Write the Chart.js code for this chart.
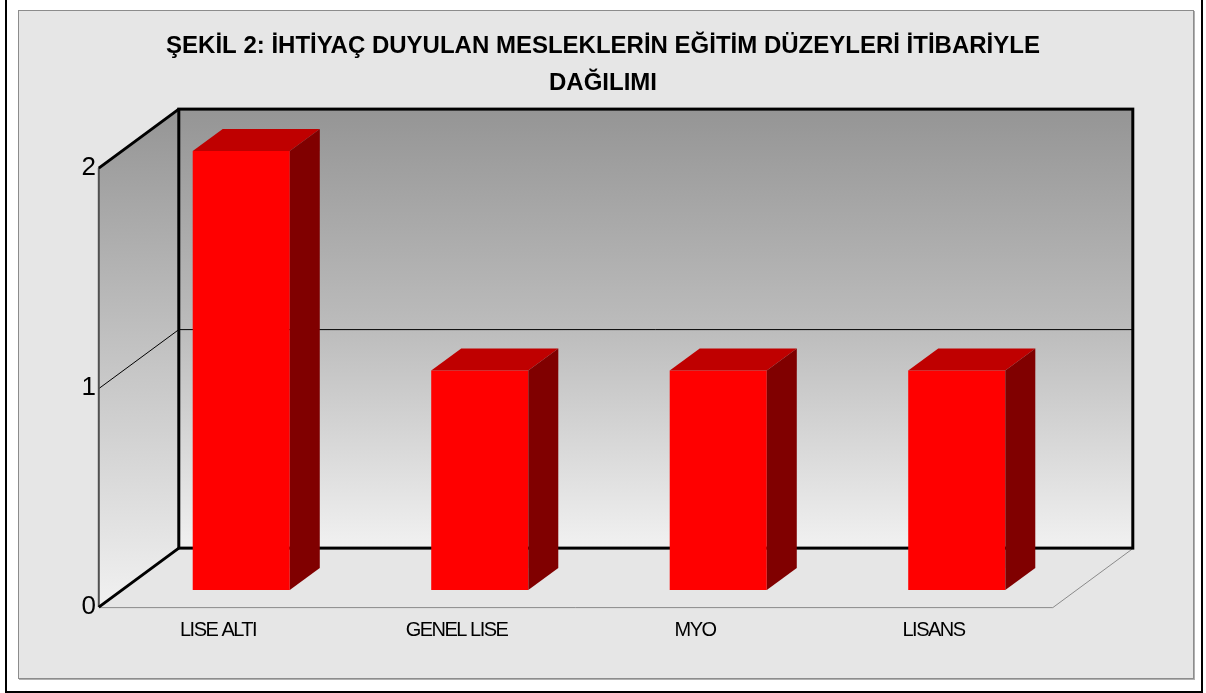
<!DOCTYPE html>
<html>
<head>
<meta charset="utf-8">
<script src="https://cdn.jsdelivr.net/npm/chart.js@4/dist/chart.umd.min.js"></script>
<style>
  html, body { margin: 0; padding: 0; background: #fff; }
  #page { position: relative; width: 1206px; height: 693px; overflow: hidden; }
  #frame { position: absolute; left: 5px; top: -3px; width: 1194px; height: 692px; border: 2px solid #000; }
  #panel { position: absolute; left: 18px; top: 10px; width: 1174px; height: 667px; background: #e6e6e6; border: 1px solid #8c8c8c; box-shadow: 1px 1px 0 #b0b0b0; }
  #chart1 { position: absolute; left: 0; top: 0; }
</style>
</head>
<body>
<div id="page">
  <div id="frame"></div>
  <div id="panel"></div>
  <canvas id="chart1" width="1206" height="693"></canvas>
</div>
<script>
// ====== 데이터 ======
const titleLines = ['ŞEKİL 2: İHTİYAÇ DUYULAN MESLEKLERİN EĞİTİM DÜZEYLERİ İTİBARİYLE', 'DAĞILIMI'];
const categories = ['LISE ALTI', 'GENEL LISE', 'MYO', 'LISANS'];
const values = [2, 1, 1, 1];
const yMin = 0, yMax = 2, yStep = 1;

// 3D depth of the floor (px) and where the bars sit inside it
const depth = { dx: 80, dy: -59 };
const barFront = 0.29;   // bar front face, as share of the depth
const barDepth = 0.375;  // bar thickness, as share of the depth

// walls, floor and gridlines
const walls3d = {
  id: 'walls3d',
  beforeDatasetsDraw(chart) {
    const { ctx, scales: { x, y } } = chart;
    const fx = -barFront * depth.dx, fy = -barFront * depth.dy;
    const bx = fx + depth.dx, by = fy + depth.dy;
    const L = x.left, R = x.right;
    const top = y.getPixelForValue(yMax), bot = y.getPixelForValue(yMin);

    ctx.save();

    // back wall
    let g = ctx.createLinearGradient(0, top + by, 0, bot + by);
    g.addColorStop(0, '#959595');
    g.addColorStop(0.5, '#bcbcbc');
    g.addColorStop(1, '#f1f1f1');
    ctx.fillStyle = g;
    ctx.fillRect(L + bx, top + by, R - L, bot - top);

    // left wall
    g = ctx.createLinearGradient(0, top + by, 0, bot + fy);
    g.addColorStop(0, '#959595');
    g.addColorStop(0.5, '#c4c4c4');
    g.addColorStop(1, '#f1f1f1');
    ctx.fillStyle = g;
    ctx.beginPath();
    ctx.moveTo(L + fx, top + fy);
    ctx.lineTo(L + bx, top + by);
    ctx.lineTo(L + bx, bot + by);
    ctx.lineTo(L + fx, bot + fy);
    ctx.closePath();
    ctx.fill();

    // gridlines
    ctx.strokeStyle = '#000';
    ctx.lineWidth = 1;
    y.ticks.forEach(t => {
      if (t.value <= yMin || t.value >= yMax) return;
      const py = Math.round(y.getPixelForValue(t.value)) + 0.5;
      ctx.beginPath();
      ctx.moveTo(L + fx, py + fy);
      ctx.lineTo(L + bx, py + by);
      ctx.lineTo(R + bx, py + by);
      ctx.stroke();
    });

    // floor front edges
    ctx.strokeStyle = '#8a8a8a';
    ctx.beginPath();
    ctx.moveTo(L + fx, bot + fy + 0.5);
    ctx.lineTo(R + fx, bot + fy + 0.5);
    ctx.lineTo(R + bx, bot + by + 0.5);
    ctx.stroke();

    // left wall front edge
    ctx.strokeStyle = '#505050';
    ctx.lineWidth = 2;
    ctx.beginPath();
    ctx.moveTo(L + fx, top + fy);
    ctx.lineTo(L + fx, bot + fy);
    ctx.stroke();

    // thick outlines
    ctx.strokeStyle = '#000';
    ctx.lineWidth = 3;
    ctx.strokeRect(L + bx, top + by, R - L, bot - top);
    ctx.beginPath();
    ctx.moveTo(L + fx, top + fy);
    ctx.lineTo(L + bx, top + by);
    ctx.moveTo(L + fx, bot + fy);
    ctx.lineTo(L + bx, bot + by);
    ctx.stroke();
    ctx.restore();
  },
  afterDatasetsDraw(chart) {
    const { ctx } = chart;
    const dx = barDepth * depth.dx, dy = barDepth * depth.dy;
    ctx.save();
    chart.getDatasetMeta(0).data.forEach(bar => {
      const { x, y, base, width } = bar.getProps(['x', 'y', 'base', 'width'], true);
      const xl = x - width / 2, xr = x + width / 2;
      // top
      ctx.fillStyle = '#bf0000';
      ctx.beginPath();
      ctx.moveTo(xl, y);
      ctx.lineTo(xl + dx, y + dy);
      ctx.lineTo(xr + dx, y + dy);
      ctx.lineTo(xr, y);
      ctx.closePath();
      ctx.fill();
      // side
      ctx.fillStyle = '#800000';
      ctx.beginPath();
      ctx.moveTo(xr, y);
      ctx.lineTo(xr + dx, y + dy);
      ctx.lineTo(xr + dx, base + dy);
      ctx.lineTo(xr, base);
      ctx.closePath();
      ctx.fill();
    });
    ctx.restore();
    // x labels are drawn after this (ticks.z = 1): condensed look of the Excel text
    ctx.letterSpacing = '-1.5px';
  }
};

const ctx = document.getElementById('chart1');
new Chart(ctx, {
  type: 'bar',
  data: {
    labels: categories,
    datasets: [{
      data: values,
      backgroundColor: '#ff0000',
      borderWidth: 0,
      categoryPercentage: 1,
      barPercentage: 0.407
    }]
  },
  options: {
    responsive: false,
    animation: false,
    layout: { padding: { top: 10, left: 0, right: 0, bottom: 0 } },
    plugins: {
      legend: { display: false },
      tooltip: { enabled: false },
      title: {
        display: true,
        text: titleLines,
        color: '#000',
        font: { family: "'Liberation Sans', Arial, sans-serif", size: 24, weight: 'bold', lineHeight: 37 / 24 },
        padding: { top: 17.5, bottom: 49.5 }
      }
    },
    scales: {
      x: {
        grid: { display: false },
        border: { display: false },
        ticks: {
          z: 1,
          color: '#000',
          font: { family: "'Liberation Sans', Arial, sans-serif", size: 20 },
          padding: 20,
          labelOffset: -barFront * depth.dx,
          autoSkip: false,
          maxRotation: 0
        },
        afterFit: s => { s.height = 103; }
      },
      y: {
        min: yMin,
        max: yMax,
        grid: { display: false, drawTicks: false },
        border: { display: false },
        ticks: {
          stepSize: yStep,
          color: '#000',
          font: { family: "'Liberation Sans', Arial, sans-serif", size: 26 },
          padding: 26,
          labelOffset: -barFront * depth.dy
        },
        afterFit: s => { s.width = 122; }
      },
      y2: {
        position: 'right',
        grid: { display: false },
        border: { display: false },
        ticks: { display: false },
        afterFit: s => { s.width = 130; }
      }
    }
  },
  plugins: [walls3d]
});
</script>
</body>
</html>
